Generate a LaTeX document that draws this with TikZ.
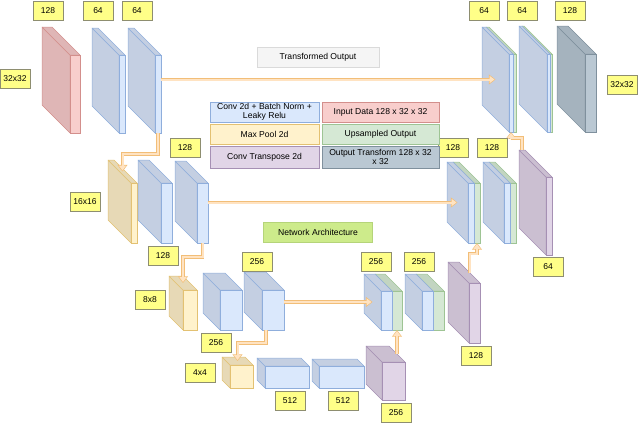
\documentclass[tikz,border=0pt]{standalone}
\usepackage{fontspec}
\setmainfont{Liberation Sans}
\usetikzlibrary{arrows.meta,shadows}

\definecolor{blueF}{HTML}{DAE8FC}
\definecolor{blueS}{HTML}{C4CFE2}
\definecolor{blueE}{HTML}{8FAEDC}
\definecolor{redF}{HTML}{F8CECC}
\definecolor{redS}{HTML}{DFB6B6}
\definecolor{redE}{HTML}{D38F8C}
\definecolor{yelF}{HTML}{FFF2CC}
\definecolor{yelS}{HTML}{E7D9B6}
\definecolor{yelE}{HTML}{E3C172}
\definecolor{grnF}{HTML}{D5E8D4}
\definecolor{grnS}{HTML}{C2D5C1}
\definecolor{grnE}{HTML}{9EC494}
\definecolor{purF}{HTML}{E1D5E7}
\definecolor{purS}{HTML}{CBBFD1}
\definecolor{purE}{HTML}{A690B4}
\definecolor{gryF}{HTML}{BAC8D3}
\definecolor{gryS}{HTML}{A5B3BE}
\definecolor{gryE}{HTML}{7F909D}
\definecolor{tagF}{HTML}{FFFF88}
\definecolor{tagE}{HTML}{8E8E70}
\definecolor{arrF}{HTML}{FFE3C2}
\definecolor{arrE}{HTML}{F2BE78}
\definecolor{limeF}{HTML}{CDEB8B}
\definecolor{limeE}{HTML}{B5D47A}
\definecolor{paleF}{HTML}{F5F5F5}
\definecolor{paleE}{HTML}{DADADA}

% one feature-map block: front face x1..x2, y1..y2, pushed back by a depth
\newcommand{\layerbox}[7]{% name, x1, x2, y1, y2, depth, colour
  \filldraw[fill=#7S, draw=#7E, line width=0.5pt, line join=round]
    (#2,#4) -- ++(-#6,-#6) -- ++(0,{#5-#4}) -- (#2,#5) -- cycle;
  \filldraw[fill=#7S, draw=#7E, line width=0.5pt, line join=round]
    (#2,#4) -- ++(-#6,-#6) -- ++({#3-#2},0) -- (#3,#4) -- cycle;
  \filldraw[fill=#7F, draw=#7E, line width=0.5pt] (#2,#4) rectangle (#3,#5);
  \coordinate (#1-s) at ({(#2+#3)/2},#5);
  \coordinate (#1-e) at (#3,{(#4+#5)/2});
  \coordinate (#1-w) at ({#2-#6/2},{(#4+#5)/2-#6/2});
  \coordinate (#1-t) at ({(#2+#3)/2-#6/2},{#4-#6/2});
  \coordinate (#1-tr) at ({#3-#6/2},{#4-#6/2});
  \coordinate (#1-bk) at ({(#2+#3)/2-#6},{#4-#6});
}

\begin{document}
\begin{tikzpicture}[x=1pt, y=-1pt,
  tag/.style={draw=tagE, fill=tagF, line width=0.4pt, minimum width=30pt,
              minimum height=19pt, inner sep=1pt, font=\fontsize{8.5}{9}\selectfont,
              drop shadow={shadow xshift=0.8pt, shadow yshift=-0.8pt, opacity=0.45}},
  key/.style 2 args={draw=#1, fill=#2, line width=0.5pt, minimum height=20pt,
              align=center, inner sep=1pt, font=\fontsize{8.6}{9.2}\selectfont,
              drop shadow={shadow xshift=0.8pt, shadow yshift=-0.8pt, opacity=0.35}},
  flow/.style={draw=arrF, line width=2pt, shorten >=1pt,
              -{Triangle[length=4.8pt, width=6.8pt]},
              preaction={draw=arrE, line width=3.8pt, shorten >=0pt,
                         -{Triangle[length=6.6pt, width=9.6pt]}}},
]
\useasboundingbox (0,0) rectangle (640,426);

% --- encoder ---
\layerbox{inp}{70}{80}{55}{133}{28}{red}
\layerbox{e1a}{119}{125}{55}{133}{27}{blue}
\layerbox{e1b}{155}{161}{55}{133}{27}{blue}

\layerbox{p2}{131}{137}{183}{243}{23}{yel}
\layerbox{e2a}{161}{172}{183}{243}{23}{blue}
\layerbox{e2b}{197}{208}{183}{243}{22}{blue}

\layerbox{p3}{183}{197}{290}{330}{14}{yel}
\layerbox{e3a}{220}{242}{290}{330}{17}{blue}
\layerbox{e3b}{262}{284}{290}{330}{18}{blue}

% --- bottleneck ---
\layerbox{p4}{230}{253}{365}{388}{8}{yel}
\layerbox{e4a}{265}{309}{366}{388}{8}{blue}
\layerbox{e4b}{319}{364}{366}{388}{7}{blue}
\layerbox{u4}{382}{405}{362}{400}{16}{pur}

% --- decoder (green = upsampled half, drawn behind) ---
\layerbox{d3ag}{392}{402}{291}{330}{17}{grn}
\layerbox{d3a}{381}{392}{291}{330}{17}{blue}
\layerbox{d3bg}{433}{444}{291}{330}{17}{grn}
\layerbox{d3b}{422}{433}{291}{330}{17}{blue}
\layerbox{u3}{469}{480}{283}{343}{21}{pur}

\layerbox{d2ag}{474}{480}{183}{243}{21}{grn}
\layerbox{d2a}{468}{474}{183}{243}{21}{blue}
\layerbox{d2bg}{510}{516}{183}{243}{21}{grn}
\layerbox{d2b}{504}{510}{183}{243}{21}{blue}
\layerbox{u2}{546}{552}{177}{255}{27}{pur}

\layerbox{d1ag}{513}{516}{54}{132}{27}{grn}
\layerbox{d1a}{509}{513}{54}{132}{27}{blue}
\layerbox{d1bg}{550}{552}{54}{132}{28}{grn}
\layerbox{d1b}{547}{550}{54}{132}{28}{blue}
\layerbox{out}{585}{596}{54}{132}{28}{gry}

% --- skip connections ---
\draw[flow] (e1b-e |- d1a-w) -- (d1a-w);
\draw[flow] (e2b-e |- d2a-w) -- (d2a-w);
\draw[flow] (e3b-e |- d3a-w) -- (d3a-w);

% --- pooling steps down, transposed conv steps up ---
\draw[flow] (e1b-s) -- ++(0,21) -| (p2-t);
\draw[flow] (e2b-s) -- ++(0,14) -| (p3-t);
\draw[flow] ([xshift=-7pt]e3b-s) -- ++(0,13) -| (p4-t);
\draw[flow] (u4-tr) -- (d3ag-s);
\draw[flow] (u3-tr) -- ++(0,-19) -| (d2ag-s);
\draw[flow] (u2-bk) -- ++(0,-12) -| (d1a-s);

% --- size tags ---
\foreach \nm/\px/\py/\txt in {t-inp/48/11/128, t-e1a/98/11/64, t-e1b/137/11/64,
    t-s1/15/79/32x32, t-s2/85/202/16x16, t-e2b/185/148/128, t-e2a/163/256/128,
    t-s3/150/300/8x8, t-e3b/257/262/256, t-e3a/216/343/256, t-s4/200/373/4x4,
    t-e4a/290/401/512, t-e4b/343/401/512, t-u4/396/413/256,
    t-d3a/376/262/256, t-d3b/419/262/256, t-u3/476/356/128,
    t-d2a/453/148/128, t-d2b/492/148/128, t-u2/548/267/64,
    t-d1a/484/11/64, t-d1b/522/11/64, t-out/570/11/128, t-s5/622/85/32x32}
  \node[tag] (\nm) at (\px,\py) {\txt};

% --- titles ---
\node[key={paleE}{paleF}, minimum width=122pt] (ttl-out) at (318,57) {Transformed Output};
\node[key={limeE}{limeF}, minimum width=109pt] (ttl-net) at (318,232) {Network Architecture};

% --- legend ---
\node[key={blueE}{blueF}, minimum width=109pt] (k-conv) at (264.5,112) {Conv 2d + Batch Norm +\\Leaky Relu};
\node[key={redE}{redF}, minimum width=117pt] (k-inp) at (380.5,112) {Input Data 128 x 32 x 32};
\node[key={yelE}{yelF}, minimum width=109pt] (k-pool) at (264.5,134) {Max Pool 2d};
\node[key={grnE}{grnF}, minimum width=117pt] (k-up) at (380.5,134) {Upsampled Output};
\node[key={purE}{purF}, minimum width=109pt, minimum height=22pt] (k-tconv) at (264.5,157) {Conv Transpose 2d};
\node[key={gryE}{gryF}, minimum width=117pt, minimum height=22pt] (k-out) at (380.5,157) {Output Transform 128 x 32\\x 32};
\end{tikzpicture}
\end{document}
